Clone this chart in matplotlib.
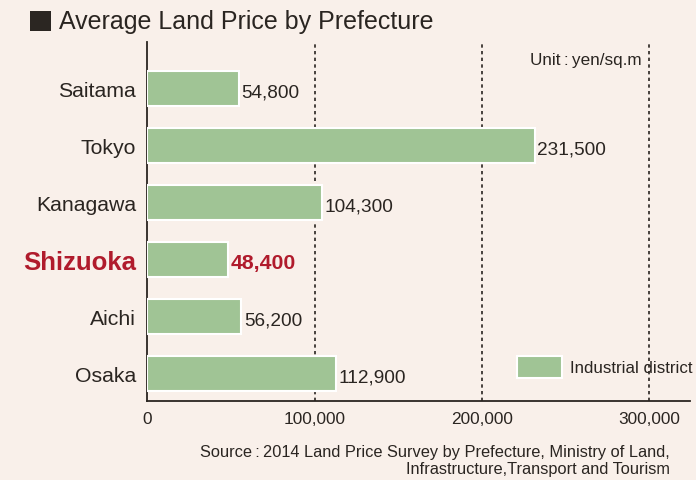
import matplotlib
matplotlib.use("Agg")
import matplotlib.pyplot as plt
from matplotlib.patches import Rectangle

# Data
prefectures = ["Saitama", "Tokyo", "Kanagawa", "Shizuoka", "Aichi", "Osaka"]
prices = [54800, 231500, 104300, 48400, 56200, 112900]
highlight = "Shizuoka"
x_ticks = [0, 100000, 200000, 300000]
x_tick_labels = ["0", "100,000", "200,000", "300,000"]
legend_label = "Industrial district"
title = "Average Land Price by Prefecture"
unit_text = "Unit\u2009:\u2009yen/sq.m"
source_lines = ["Source\u2009:\u20092014 Land Price Survey by Prefecture, Ministry of Land,",
                "Infrastructure,Transport and Tourism"]

BG = "#f9f0ea"
BAR = "#a0c495"
DARK = "#2a2521"
RED = "#b01b2c"
FONT = "Liberation Sans"

plt.rcParams["font.family"] = FONT

fig = plt.figure(figsize=(6.96, 4.81), dpi=100, facecolor=BG)
ax = fig.add_axes([147.3 / 696, 1 - 402 / 481, (690 - 147.3) / 696, (402 - 43) / 481])
ax.set_facecolor(BG)

ypos = list(range(len(prefectures)))
ax.barh(ypos, prices, height=0.62, color=BAR, edgecolor="white", linewidth=1.5, zorder=3)

for y, name, v in zip(ypos, prefectures, prices):
    hl = name == highlight
    ax.text(v + 1500, y + 0.05, f"{v:,}", va="center", ha="left",
            fontsize=15.3 if hl else 13.7, fontweight="bold" if hl else "normal",
            color=RED if hl else DARK, zorder=4)

ax.set_xlim(0, 324400)
ax.set_ylim(5.477, -0.82)

ax.set_yticks(ypos)
ax.set_yticklabels(prefectures)
for lbl in ax.get_yticklabels():
    if lbl.get_text() == highlight:
        lbl.set_color(RED)
        lbl.set_fontweight("bold")
        lbl.set_fontsize(18.5)
    else:
        lbl.set_color(DARK)
        lbl.set_fontsize(15.3)
ax.tick_params(axis="y", length=0, pad=8)

ax.set_xticks(x_ticks)
ax.set_xticklabels(x_tick_labels)
ax.tick_params(axis="x", length=0, pad=7, labelsize=12.4, labelcolor=DARK)

for xv in x_ticks[1:]:
    ax.axvline(xv, color=DARK, linewidth=1.2, linestyle=(0, (2, 2)), zorder=1)

for side in ("top", "right"):
    ax.spines[side].set_visible(False)
for side in ("left", "bottom"):
    ax.spines[side].set_color(DARK)
    ax.spines[side].set_linewidth(1.3)

# Title with a square marker
fig.patches.append(Rectangle((30 / 696, 1 - 32 / 481), 21 / 696, 20 / 481,
                             transform=fig.transFigure, facecolor="#2b2622",
                             edgecolor="none"))
fig.text(59 / 696, 1 - 22 / 481, title, ha="left", va="center",
         fontsize=18, color=DARK)

# Unit note
fig.text(642 / 696, 1 - 61 / 481, unit_text, ha="right", va="center",
         fontsize=12.3, color=DARK)

# Legend
fig.patches.append(Rectangle((517 / 696, 1 - 379 / 481), 45 / 696, 22 / 481,
                             transform=fig.transFigure, facecolor=BAR,
                             edgecolor="white", linewidth=1.5))
fig.text(570 / 696, 1 - 369 / 481, legend_label, ha="left", va="center",
         fontsize=12.2, color=DARK)

# Source
fig.text(670 / 696, 1 - 452 / 481, source_lines[0], ha="right", va="center",
         fontsize=11.8, color=DARK)
fig.text(670 / 696, 1 - 470 / 481, source_lines[1], ha="right", va="center",
         fontsize=11.8, color=DARK)

fig.savefig("out.png", dpi=100, facecolor=BG)
